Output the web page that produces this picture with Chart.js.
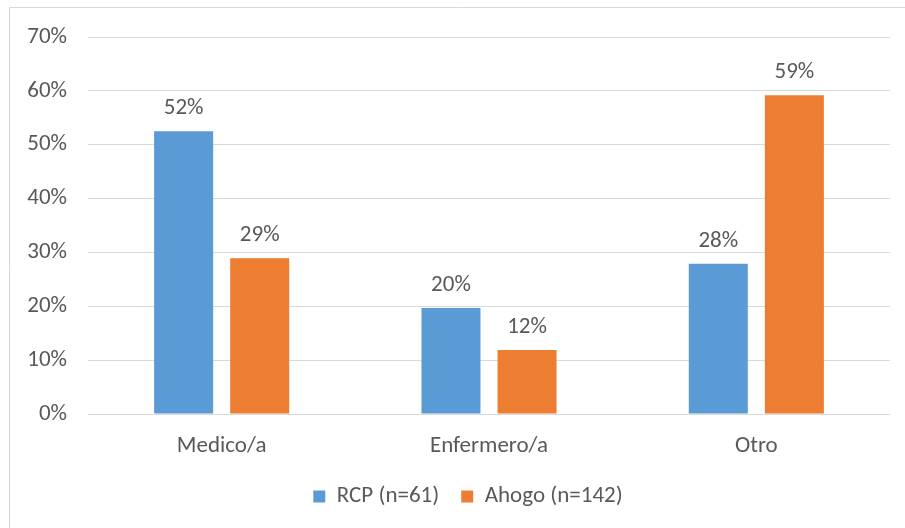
<!DOCTYPE html>
<html>
<head>
<meta charset="utf-8">
<script src="https://cdn.jsdelivr.net/npm/chart.js@4"></script>
<style>
html,body{margin:0;padding:0;background:#fff;}
#wrap{position:relative;width:905px;height:528px;}
</style>
</head>
<body>
<div id="wrap"><canvas id="c" width="905" height="528"></canvas></div>
<script>
const categories = ["Medico/a", "Enfermero/a", "Otro"];
const seriesNames = ["RCP (n=61)", "Ahogo (n=142)"];
const rcpValues = [52.5, 19.7, 27.9];
const ahogoValues = [28.9, 11.9, 59.2];
const rcpLabels = ["52%", "20%", "28%"];
const ahogoLabels = ["29%", "12%", "59%"];
const yTicks = [0, 10, 20, 30, 40, 50, 60, 70];

const FONT = "Carlito, 'Liberation Sans Narrow', Lato, sans-serif";
const TEXT = "#595959";
const FS = 23;

const frame = {
  id: 'frame',
  beforeDraw(chart) {
    const ctx = chart.ctx;
    ctx.save();
    ctx.fillStyle = '#fff';
    ctx.fillRect(0, 0, chart.width, chart.height);
    ctx.strokeStyle = '#d9d9d9';
    ctx.lineWidth = 1;
    ctx.beginPath();
    ctx.moveTo(9.5, 528);
    ctx.lineTo(9.5, 7.5);
    ctx.lineTo(905, 7.5);
    ctx.stroke();
    ctx.restore();
  }
};

const shiftLegend = {
  id: 'shiftLegend',
  afterLayout(chart) {
    const lg = chart.legend;
    if (lg) { lg.left += 18; lg.right += 18; }
  }
};

const valueLabels = {
  id: 'valueLabels',
  afterDatasetsDraw(chart) {
    const ctx = chart.ctx;
    ctx.save();
    ctx.font = FS + "px " + FONT;
    ctx.fillStyle = TEXT;
    ctx.textAlign = 'center';
    ctx.textBaseline = 'alphabetic';
    const texts = [rcpLabels, ahogoLabels];
    chart.data.datasets.forEach((ds, di) => {
      chart.getDatasetMeta(di).data.forEach((bar, i) => {
        ctx.fillText(texts[di][i], bar.x, bar.y - 17);
      });
    });
    ctx.restore();
  }
};

new Chart(document.getElementById('c'), {
  type: 'bar',
  data: {
    labels: categories,
    datasets: [
      { label: seriesNames[0], data: rcpValues, backgroundColor: '#5B9BD5', borderWidth: 0 },
      { label: seriesNames[1], data: ahogoValues, backgroundColor: '#ED7D31', borderWidth: 0 }
    ]
  },
  options: {
    responsive: false,
    animation: false,
    devicePixelRatio: 1,
    layout: { padding: { top: 37, left: 10, right: 15, bottom: 10 } },
    datasets: { bar: { categoryPercentage: 0.569, barPercentage: 0.776 } },
    plugins: {
      legend: {
        position: 'bottom',
        labels: {
          font: { size: FS, family: FONT },
          color: TEXT,
          boxWidth: 12,
          boxHeight: 12,
          padding: 22
        }
      },
      tooltip: { enabled: false }
    },
    scales: {
      x: {
        grid: { display: false, drawTicks: false },
        border: { display: false },
        ticks: { font: { size: FS, family: FONT }, color: TEXT, padding: 18 },
        afterFit(s) { s.height = 49; }
      },
      y: {
        min: 0, max: 70,
        afterBuildTicks(s) { s.ticks = yTicks.map(v => ({ value: v })); },
        grid: { color: '#d9d9d9', lineWidth: 1, drawTicks: false },
        border: { display: false },
        ticks: {
          font: { size: FS, family: FONT }, color: TEXT, padding: 21,
          callback: v => v + '%'
        },
        afterFit(s) { s.width = 78; }
      }
    }
  },
  plugins: [frame, shiftLegend, valueLabels]
});
</script>
</body>
</html>
